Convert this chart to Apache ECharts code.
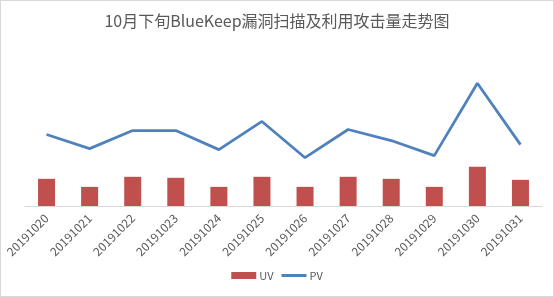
<!DOCTYPE html>
<html>
<head>
<meta charset="utf-8">
<script src="https://cdn.jsdelivr.net/npm/echarts@6/dist/echarts.min.js"></script>
<style>
  html, body { margin: 0; padding: 0; background: #fff; }
  #chart { width: 552px; height: 295px; border: 1px solid #d9d9d9; }
</style>
</head>
<body>
<div id="chart"></div>
<script>
// 10月下旬 BlueKeep 扫描及利用攻击量
const days = ['20191020', '20191021', '20191022', '20191023', '20191024', '20191025',
    '20191026', '20191027', '20191028', '20191029', '20191030', '20191031'];
const uvValues = [270, 190, 290, 280, 190, 290, 190, 290, 270, 190, 390, 260];
const pvValues = [710, 570, 750, 750, 560, 840, 480, 760, 650, 500, 1220, 610];

const textColor = '#595959';

const myChart = echarts.init(document.getElementById('chart'));

const option = {
    animation: false,
    title: {
        text: '10月下旬BlueKeep漏洞扫描及利用攻击量走势图',
        left: 'center',
        top: 7,
        textStyle: {
            color: textColor,
            fontSize: 16,
            fontWeight: 'normal',
            fontFamily: 'Noto Sans CJK SC'
        }
    },
    legend: {
        bottom: 10,
        left: 'center',
        itemGap: 8,
        itemWidth: 25,
        itemHeight: 7,
        symbolKeepAspect: true,
        textStyle: { color: textColor, fontSize: 11, fontFamily: 'Noto Sans CJK SC', padding: [0, 0, 0, -2] },
        data: [
            { name: 'UV', icon: 'rect' },
            { name: 'PV', icon: 'path://M0,0 L25,0 L25,3 L0,3 Z' }
        ]
    },
    grid: {
        left: 24,
        right: 11,
        top: 54,
        bottom: 90
    },
    xAxis: {
        type: 'category',
        data: days,
        axisLine: { lineStyle: { color: '#d9d9d9', width: 1 } },
        axisTick: { show: false },
        axisLabel: {
            rotate: 45,
            interval: 0,
            color: textColor,
            fontSize: 12,
            fontFamily: 'Noto Sans CJK SC',
            margin: 10
        }
    },
    yAxis: {
        type: 'value',
        min: 0,
        max: 1500,
        show: false,
        splitLine: { show: false }
    },
    series: [
        {
            name: 'UV',
            type: 'bar',
            data: uvValues,
            barWidth: 17,
            itemStyle: { color: '#C0504D' }
        },
        {
            name: 'PV',
            type: 'line',
            data: pvValues,
            symbol: 'none',
            lineStyle: { color: '#4F81BD', width: 2.75 },
            itemStyle: { color: '#4F81BD' }
        }
    ]
};

myChart.setOption(option);
</script>
</body>
</html>
